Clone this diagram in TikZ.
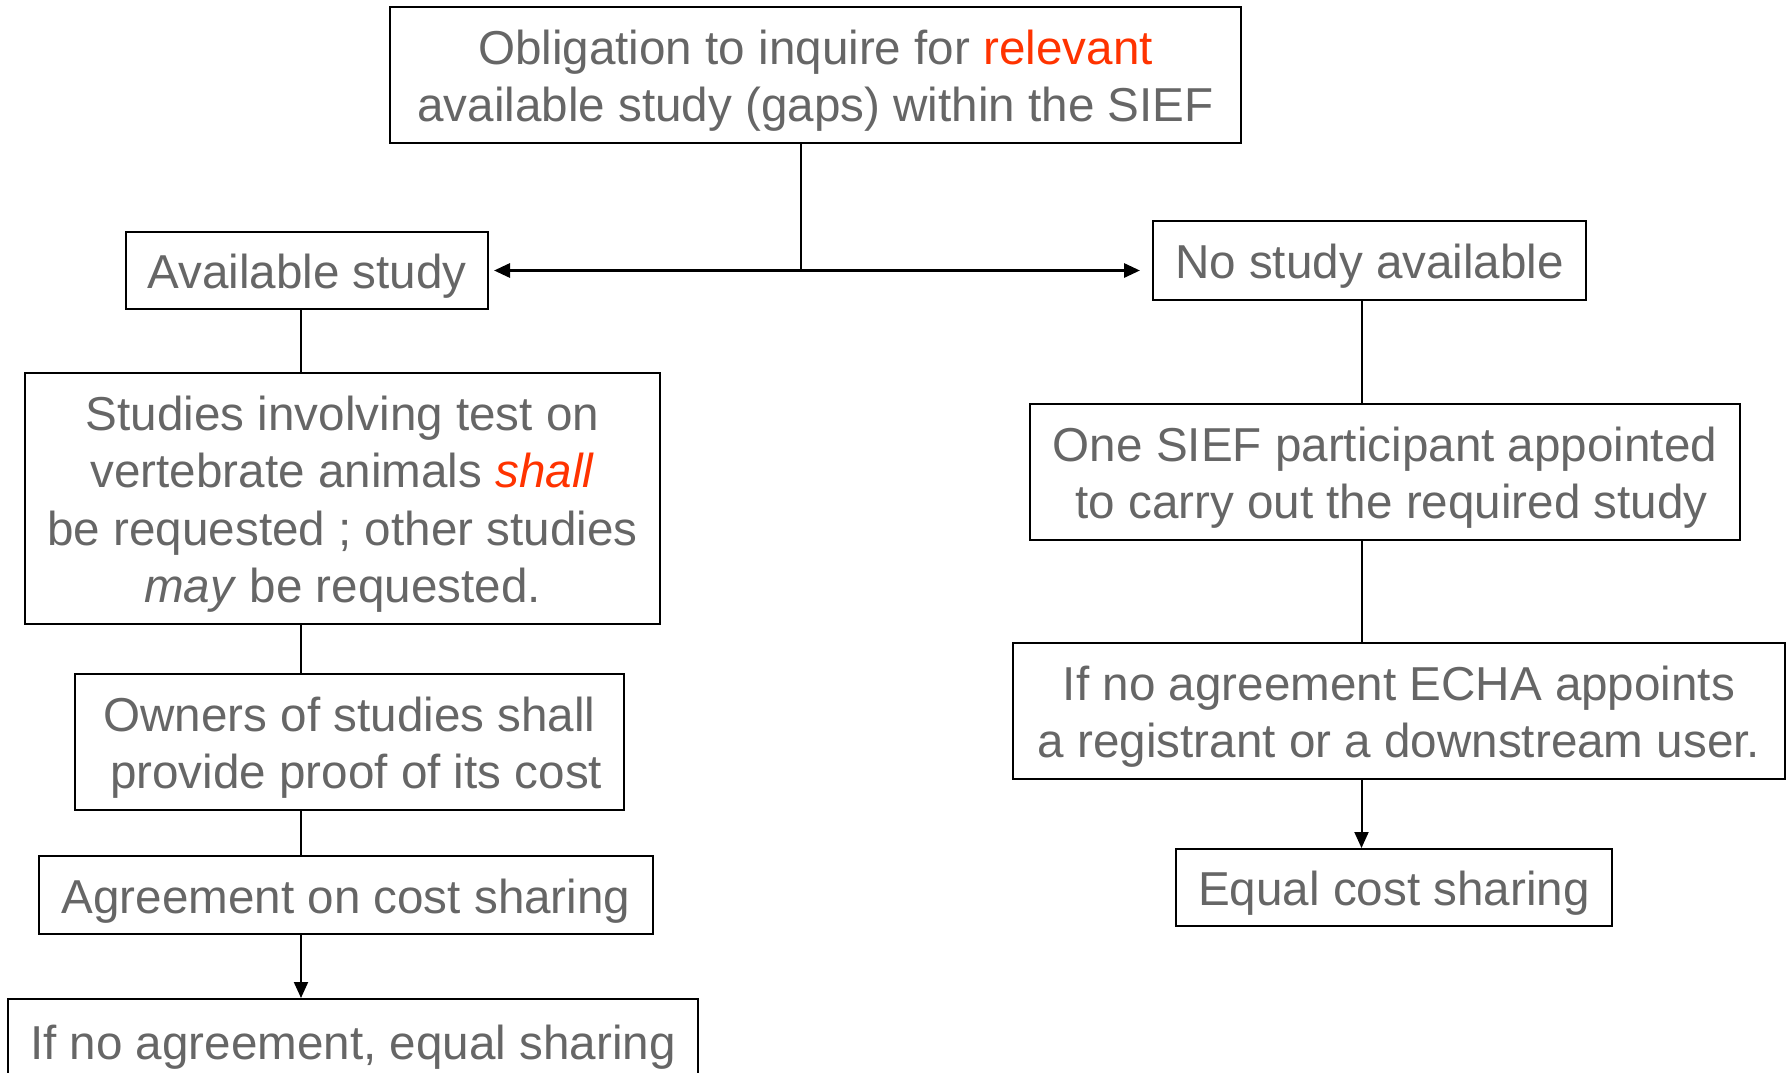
\documentclass[tikz,border=0pt]{standalone}
\usepackage{fontspec}
\setmainfont{Liberation Sans}
\usetikzlibrary{positioning, arrows.meta}
\definecolor{txtgray}{HTML}{666666}
\definecolor{hired}{HTML}{FF3300}
\newcommand{\toplift}{\rule{0pt}{23pt}}

\begin{document}
\begin{tikzpicture}
            [x=0.5pt, y=-0.5pt,
            block/.style={
                rectangle,
                draw,
                line width=1pt,
                text=txtgray,
                align=center,
                inner sep=0pt,
                font=\fontsize{23.8}{28.7}\selectfont
            },
            line/.style={
                draw, line width=1pt
            },
            tipline/.style={
                draw, line width=1pt, -{Triangle[length=8pt, width=7pt]}
            },
            splitline/.style={
                draw, line width=1.5pt, {Triangle[length=8pt, width=7pt]}-{Triangle[length=8pt, width=7pt]}, shorten <=2.5pt, shorten >=6pt
            }
            ]

            \useasboundingbox (0,0) rectangle (1789,1072);
            \clip (0,0) rectangle (1789,1072);

            % Top node
            \node[block, minimum width=425.5pt, minimum height=68pt] (duty) at (815.5,75)
                {\toplift Obligation to inquire for \textcolor{hired}{relevant}\\available study (gaps) within the SIEF};

            % Left branch
            \node[block, minimum width=181pt, minimum height=38.5pt] (avail) at (307,270.5) {\toplift Available study};
            \node[block, minimum width=317.5pt, minimum height=125.5pt] (vert) at (342.5,498.5)
                {\toplift Studies involving test on\\vertebrate animals \textcolor{hired}{\textit{shall}}\\be requested ; other studies\\\textit{may} be requested.};
            \node[block, minimum width=274.5pt, minimum height=68pt] (owners) at (349.5,742)
                {\toplift Owners of studies shall\\\ provide proof of its cost};
            \node[block, minimum width=307pt, minimum height=39pt] (agree) at (346,895) {\toplift Agreement on cost sharing};
            \node[block, minimum width=345pt, minimum height=42pt] (noagree) at (353,1041) {\toplift If no agreement, equal sharing};

            % Right branch
            \node[block, minimum width=216.5pt, minimum height=39.5pt] (nostudy) at (1369.5,260.5) {\toplift No study available};
            \node[block, minimum width=355pt, minimum height=68pt] (appoint) at (1385,472)
                {\toplift One SIEF participant appointed\\\ to carry out the required study};
            \node[block, minimum width=386pt, minimum height=68pt] (echa) at (1399,711)
                {\toplift If no agreement ECHA appoints\\a registrant or a downstream user.};
            \node[block, minimum width=218pt, minimum height=38.5pt] (equal) at (1394,887.5) {\toplift Equal cost sharing};

            % Split
            \coordinate (split) at ([xshift=-7.5pt]duty.south |- avail.east);
            \path [line] ([xshift=-7.5pt]duty.south) -- (split);
            \path [splitline] (avail.east) -- (avail.east -| nostudy.west);

            % Spines
            \coordinate (lspine) at ([xshift=-3pt]avail.south);
            \coordinate (rspine) at ([xshift=-4pt]nostudy.south);

            \path [line] (lspine) -- (lspine |- vert.north);
            \path [line] (lspine |- vert.south) -- (lspine |- owners.north);
            \path [line] (lspine |- owners.south) -- (lspine |- agree.north);
            \path [tipline] (lspine |- agree.south) -- (lspine |- noagree.north);

            \path [line] (rspine) -- (rspine |- appoint.north);
            \path [line] (rspine |- appoint.south) -- (rspine |- echa.north);
            \path [tipline] (rspine |- echa.south) -- (rspine |- equal.north);
\end{tikzpicture}
\end{document}
